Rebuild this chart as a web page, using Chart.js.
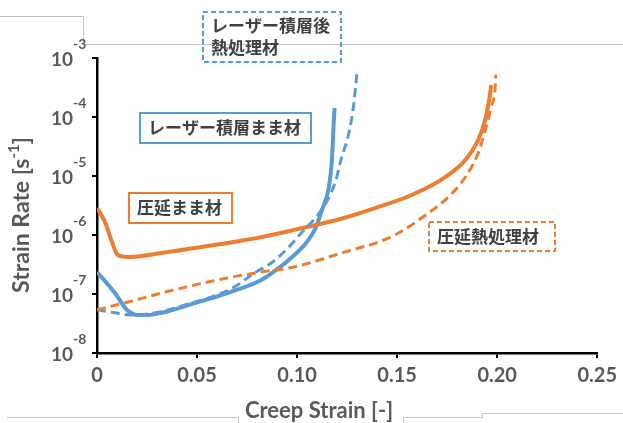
<!DOCTYPE html>
<html>
<head>
<meta charset="utf-8">
<script src="https://cdn.jsdelivr.net/npm/chart.js@4.4.0/dist/chart.umd.min.js"></script>
<style>
html, body { margin: 0; padding: 0; background: #fff; }
</style>
</head>
<body>
<canvas id="creep" width="623" height="423"></canvas>
<script>
// creep curves (x = creep strain, y = strain rate 1/s)
var laserAsBuiltX = [0, 0.009, 0.0149, 0.0204, 0.0254, 0.0323, 0.0488, 0.0652, 0.0821, 0.0915, 0.0975, 0.1045, 0.1095, 0.1124, 0.1159, 0.1174, 0.1182, 0.1187];
var laserAsBuiltY = [2.36e-7, 1.04e-7, 5.4e-8, 4.4e-8, 4.4e-8, 4.8e-8, 7.0e-8, 1.04e-7, 1.72e-7, 2.87e-7, 4.24e-7, 7.3e-7, 1.37e-6, 2.65e-6, 6.5e-6, 1.87e-5, 6.8e-5, 1.42e-4];

var laserHeatX = [0, 0.009, 0.0164, 0.0313, 0.0488, 0.0572, 0.0687, 0.0786, 0.0871, 0.096, 0.1025, 0.1095, 0.1144, 0.1194, 0.1219, 0.1259, 0.1284, 0.1299];
var laserHeatY = [5.4e-8, 4.8e-8, 4.4e-8, 4.95e-8, 7.3e-8, 8.9e-8, 1.32e-7, 2.27e-7, 3.35e-7, 6.3e-7, 1.12e-6, 2.0e-6, 3.48e-6, 8.5e-6, 1.87e-5, 5.4e-5, 1.73e-4, 5.6e-4];

var rolledAsX = [0, 0.004, 0.0075, 0.0104, 0.0154, 0.0323, 0.0488, 0.0652, 0.0821, 0.0985, 0.1234, 0.1408, 0.1572, 0.1741, 0.1841, 0.1905, 0.194, 0.1965, 0.197];
var rolledAsY = [2.87e-6, 1.66e-6, 7.6e-7, 4.58e-7, 4.24e-7, 4.95e-7, 6.0e-7, 7.3e-7, 9.2e-7, 1.22e-6, 1.94e-6, 2.99e-6, 4.76e-6, 9.6e-6, 1.87e-5, 4.07e-5, 8.9e-5, 2.55e-4, 3.5e-4];

var rolledHeatX = [0, 0.0154, 0.0323, 0.0488, 0.0652, 0.0821, 0.0985, 0.1259, 0.1408, 0.1507, 0.1657, 0.1756, 0.1841, 0.1905, 0.1945, 0.197, 0.199, 0.1993];
var rolledHeatY = [5.4e-8, 7.3e-8, 1.04e-7, 1.42e-7, 1.87e-7, 2.36e-7, 2.87e-7, 5.4e-7, 7.6e-7, 1.08e-6, 2.36e-6, 4.4e-6, 9.6e-6, 2.45e-5, 6.8e-5, 1.48e-4, 3.2e-4, 5.2e-4];

var xTickLabels = ["0", "0.05", "0.10", "0.15", "0.20", "0.25"];
var yTickValues = [1e-8, 1e-7, 1e-6, 1e-5, 1e-4, 1e-3];
var yTickExps = ["-8", "-7", "-6", "-5", "-4", "-3"];

var BLUE = "#5B9BD5";
var ORANGE = "#ED7D31";
var GREY = "#595959";

function pts(xs, ys) {
    return xs.map(function(x, i) { return {x: x, y: ys[i]}; });
}

// labels in boxes, as on the original slide
var boxes = [
    {x: 203, y: 12, w: 138, h: 50, color: BLUE, dash: [5, 3], lines: ["レーザー積層後", "熱処理材"]},
    {x: 140, y: 113, w: 171, h: 30, color: BLUE, dash: [], lines: ["レーザー積層まま材"]},
    {x: 129, y: 193, w: 103, h: 30, color: ORANGE, dash: [], lines: ["圧延まま材"]},
    {x: 429, y: 222, w: 126, h: 29, color: ORANGE, dash: [5, 3], lines: ["圧延熱処理材"]}
];

var decor = {
    id: "decor",
    beforeDraw: function(chart) {
        var ctx = chart.ctx;
        ctx.save();
        ctx.fillStyle = "#fff";
        ctx.fillRect(0, 0, chart.width, chart.height);
        // stray frame lines of the screenshot
        ctx.strokeStyle = "#c4c4c4";
        ctx.lineWidth = 1;
        ctx.beginPath();
        ctx.moveTo(0, 16.5); ctx.lineTo(83.5, 16.5); ctx.lineTo(83.5, 44.5); ctx.lineTo(623, 44.5);
        ctx.moveTo(7, 417.5); ctx.lineTo(238.5, 417.5); ctx.lineTo(238.5, 423);
        ctx.moveTo(403.5, 423); ctx.lineTo(403.5, 417.5); ctx.lineTo(482.5, 417.5); ctx.lineTo(482.5, 413.5); ctx.lineTo(623, 413.5);
        ctx.stroke();
        ctx.restore();
    },
    afterDraw: function(chart) {
        var ctx = chart.ctx;
        var ys = chart.scales.y;
        ctx.save();
        ctx.fillStyle = GREY;
        ctx.textBaseline = "middle";
        yTickValues.forEach(function(v, i) {
            var py = ys.getPixelForValue(v);
            ctx.font = "bold 19px Lato";
            ctx.textAlign = "right";
            ctx.fillText("10", 73, py + 2);
            ctx.font = "bold 14px Lato";
            ctx.textAlign = "left";
            ctx.fillText(yTickExps[i], 73, py - 14);
        });

        // y title with superscript
        ctx.save();
        ctx.translate(22, 215);
        ctx.rotate(-Math.PI / 2);
        var a = "Strain Rate [s", b = "-1", c = "]";
        ctx.font = "bold 23px Lato";
        var wa = ctx.measureText(a).width, wc = ctx.measureText(c).width;
        ctx.font = "bold 15px Lato";
        var wb = ctx.measureText(b).width;
        var x0 = -(wa + wb + wc) / 2;
        ctx.textAlign = "left";
        ctx.font = "bold 23px Lato";
        ctx.fillText(a, x0, 0);
        ctx.font = "bold 15px Lato";
        ctx.fillText(b, x0 + wa, -8);
        ctx.font = "bold 23px Lato";
        ctx.fillText(c, x0 + wa + wb, 0);
        ctx.restore();

        ctx.font = "bold 22px Lato";
        ctx.textAlign = "center";
        ctx.fillText("Creep Strain [-]", 319, 411);

        boxes.forEach(function(b) {
            ctx.strokeStyle = b.color;
            ctx.lineWidth = 2;
            ctx.setLineDash(b.dash);
            ctx.strokeRect(b.x, b.y, b.w, b.h);
            ctx.setLineDash([]);
            ctx.fillStyle = "#404040";
            ctx.font = "bold 17px 'Noto Sans CJK JP'";
            ctx.textAlign = "left";
            var lh = 22;
            var top = b.y + b.h / 2 - (b.lines.length - 1) * lh / 2;
            b.lines.forEach(function(t, k) {
                ctx.fillText(t, b.x + 8, top + k * lh);
            });
        });
        ctx.restore();
    }
};

function series(data, color, dashed) {
    return {
        data: data,
        borderColor: color,
        borderWidth: dashed ? 3 : 4,
        borderDash: dashed ? [9, 5] : [],
        pointRadius: 0,
        fill: false,
        cubicInterpolationMode: "monotone"
    };
}

new Chart(document.getElementById("creep"), {
    type: "line",
    data: {
        datasets: [
            series(pts(rolledHeatX, rolledHeatY), ORANGE, true),
            series(pts(laserHeatX, laserHeatY), BLUE, true),
            series(pts(rolledAsX, rolledAsY), ORANGE, false),
            series(pts(laserAsBuiltX, laserAsBuiltY), BLUE, false)
        ]
    },
    options: {
        responsive: false,
        animation: false,
        layout: {padding: {left: 0, top: 58, right: 24, bottom: 0}},
        plugins: {legend: {display: false}, tooltip: {enabled: false}},
        scales: {
            x: {
                type: "linear",
                min: 0,
                max: 0.25,
                afterBuildTicks: function(scale) {
                    scale.ticks = xTickLabels.map(function(t, i) { return {value: i * 0.05}; });
                },
                afterFit: function(scale) { scale.height = 70; },
                border: {display: true, color: "#000", width: 2.5},
                grid: {drawOnChartArea: false, drawTicks: true, tickLength: 5, color: "#000", lineWidth: 2},
                ticks: {
                    padding: 6,
                    color: GREY,
                    font: {family: "Lato", size: 20, weight: "bold"},
                    maxRotation: 0,
                    autoSkip: false,
                    callback: function(v, i) { return xTickLabels[i]; }
                }
            },
            y: {
                type: "logarithmic",
                min: 1e-8,
                max: 1e-3,
                afterBuildTicks: function(scale) {
                    scale.ticks = yTickValues.map(function(v) { return {value: v}; });
                },
                afterFit: function(scale) { scale.width = 97; },
                border: {display: true, color: "#000", width: 2.5},
                grid: {drawOnChartArea: false, drawTicks: true, tickLength: 5, color: "#000", lineWidth: 2},
                ticks: {display: false}
            }
        }
    },
    plugins: [decor]
});
</script>
</body>
</html>
